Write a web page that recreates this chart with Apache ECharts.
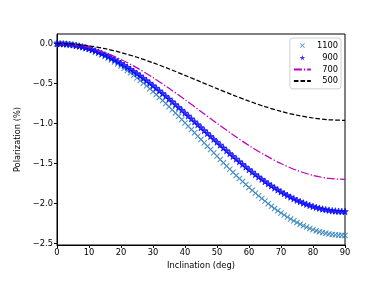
<!DOCTYPE html>
<html><head><meta charset="utf-8">
<script src="https://cdn.jsdelivr.net/npm/echarts@6/dist/echarts.min.js"></script>
<style>html,body{margin:0;padding:0;background:#fff}#c{width:384px;height:288px}</style>
</head><body><div id="c"></div>
<script>
// Inclination (deg), 1-degree samples for the marker series
const incl = [0,1,2,3,4,5,6,7,8,9,10,11,12,13,14,15,16,17,18,19,20,21,22,23,24,25,26,27,28,29,30,
31,32,33,34,35,36,37,38,39,40,41,42,43,44,45,46,47,48,49,50,51,52,53,54,55,56,57,58,59,60,
61,62,63,64,65,66,67,68,69,70,71,72,73,74,75,76,77,78,79,80,81,82,83,84,85,86,87,88,89,90];
const p1100 = [0,-0.001,-0.003,-0.007,-0.012,-0.018,-0.026,-0.036,-0.046,-0.059,-0.072,-0.087,-0.104,-0.121,-0.140,-0.161,
-0.182,-0.205,-0.229,-0.254,-0.281,-0.308,-0.337,-0.366,-0.397,-0.429,-0.461,-0.495,-0.529,-0.564,-0.600,
-0.637,-0.674,-0.712,-0.750,-0.790,-0.829,-0.869,-0.910,-0.950,-0.992,-1.033,-1.075,-1.116,-1.158,-1.200,
-1.242,-1.284,-1.325,-1.367,-1.408,-1.450,-1.490,-1.531,-1.571,-1.610,-1.650,-1.688,-1.726,-1.763,-1.800,
-1.836,-1.871,-1.905,-1.939,-1.971,-2.003,-2.034,-2.063,-2.092,-2.119,-2.146,-2.171,-2.195,-2.218,-2.239,
-2.260,-2.279,-2.296,-2.313,-2.328,-2.341,-2.354,-2.364,-2.374,-2.382,-2.388,-2.393,-2.397,-2.399,-2.400];
const p900 = [0,-0.001,-0.003,-0.006,-0.010,-0.016,-0.023,-0.031,-0.041,-0.051,-0.063,-0.076,-0.091,-0.106,-0.123,-0.141,
-0.160,-0.180,-0.201,-0.223,-0.246,-0.270,-0.295,-0.321,-0.347,-0.375,-0.404,-0.433,-0.463,-0.494,-0.525,
-0.557,-0.590,-0.623,-0.657,-0.691,-0.726,-0.761,-0.796,-0.832,-0.868,-0.904,-0.940,-0.977,-1.013,-1.050,
-1.087,-1.123,-1.160,-1.196,-1.232,-1.268,-1.304,-1.339,-1.374,-1.409,-1.443,-1.477,-1.510,-1.543,-1.575,
-1.606,-1.637,-1.667,-1.696,-1.725,-1.753,-1.779,-1.805,-1.830,-1.854,-1.877,-1.899,-1.920,-1.940,-1.959,
-1.977,-1.994,-2.009,-2.024,-2.037,-2.049,-2.059,-2.069,-2.077,-2.084,-2.090,-2.094,-2.097,-2.099,-2.100];
// 5-degree samples for the line series
const inclCoarse = [0,5,10,15,20,25,30,35,40,45,50,55,60,65,70,75,80,85,90];
const p700 = [0,-0.013,-0.051,-0.114,-0.199,-0.304,-0.425,-0.559,-0.702,-0.850,-0.998,-1.141,-1.275,-1.396,-1.501,-1.586,-1.649,-1.687,-1.700];
const p500 = [0,-0.007,-0.029,-0.064,-0.112,-0.171,-0.240,-0.316,-0.397,-0.480,-0.563,-0.644,-0.720,-0.789,-0.848,-0.896,-0.931,-0.953,-0.960];
const xTicks = [0,10,20,30,40,50,60,70,80,90];
const yTicks = [-2.5,-2.0,-1.5,-1.0,-0.5,0.0];
const names = ['1100','900','700','500'];

const zip = (xs, ys) => xs.map((x, i) => [x, ys[i]]);
const X_BODY = 'M0,0.12 L0.12,0 L0.5,0.38 L0.88,0 L1,0.12 L0.62,0.5 L1,0.88 L0.88,1 L0.5,0.62 L0.12,1 L0,0.88 L0.38,0.5 Z';
const STAR_BODY = 'M0.5,0 L0.618,0.363 L1,0.363 L0.691,0.588 L0.809,0.951 L0.5,0.727 L0.191,0.951 L0.309,0.588 L0,0.363 L0.382,0.363 Z';
const X_PATH = 'path://' + X_BODY;
const STAR_PATH = 'path://' + STAR_BODY;
// legend icons: same glyphs with an invisible margin so they draw smaller
const X_ICON = 'path://M-0.4,-0.4 M1.4,1.4 ' + X_BODY;
const STAR_ICON = 'path://M-0.3,-0.3 M1.3,1.3 ' + STAR_BODY;
const font = 'DejaVu Sans';
const fmt = v => (Math.abs(v) < 1e-9 ? '0.0' : v.toFixed(1).replace('-', '\u2212'));
const clear = {color: 'rgba(0,0,0,0)', borderColor: 'rgba(0,0,0,0)', borderWidth: 0, opacity: 0};

const chart = echarts.init(document.getElementById('c'), null, {renderer: 'canvas'});
chart.setOption({
  animation: false,
  backgroundColor: '#fff',
  textStyle: {fontFamily: font},
  grid: {left: 57, right: 39, top: 34, bottom: 43, show: true, borderColor: '#000', borderWidth: 1, containLabel: false},
  legend: {
    right: 43, top: 38, orient: 'vertical', itemGap: 3.3, itemWidth: 17, itemHeight: 9,
    backgroundColor: 'rgba(255,255,255,0.8)', borderColor: '#d0d0d0', borderWidth: 1, borderRadius: 3,
    padding: [3, 3, 4, 3],
    formatter: n => n.padStart(4, '\u2007'),
    textStyle: {fontFamily: font, fontSize: 8.3, color: '#000', padding: [0, 0, 0, 1]},
    data: [
      {name: '1100', icon: X_ICON, itemStyle: {color: '#1f77b4', borderWidth: 0}},
      {name: '900', icon: STAR_ICON, itemStyle: {color: '#0000ff', borderWidth: 0, borderColor: 'rgba(0,0,0,0)'}},
      {name: '700', itemStyle: clear},
      {name: '500', itemStyle: clear}
    ]
  },
  xAxis: {
    type: 'value', min: 0, max: 90, interval: 10,
    name: 'Inclination (deg)', nameLocation: 'middle', nameGap: 16,
    nameTextStyle: {fontFamily: font, fontSize: 8.3, color: '#000'},
    axisLine: {show: true, onZero: false, lineStyle: {color: '#000', width: 1}},
    axisTick: {show: true, length: 3, lineStyle: {color: '#000'}},
    axisLabel: {fontFamily: font, fontSize: 8.3, color: '#000', margin: 4, customValues: xTicks},
    splitLine: {show: false}
  },
  yAxis: {
    type: 'value', min: -2.52, max: 0.12,
    name: 'Polarization (%)', nameLocation: 'middle', nameGap: 26,
    nameTextStyle: {fontFamily: font, fontSize: 8.3, color: '#000'},
    axisLine: {show: true, onZero: false, lineStyle: {color: '#000', width: 1}},
    axisTick: {show: true, length: 3, lineStyle: {color: '#000'}, customValues: yTicks},
    axisLabel: {fontFamily: font, fontSize: 8.3, color: '#000', margin: 4, customValues: yTicks, formatter: fmt},
    splitLine: {show: false}
  },
  series: [
    {name: names[0], type: 'scatter', data: zip(incl, p1100), symbol: X_PATH, symbolSize: 6,
     itemStyle: {color: '#1f77b4'}, z: 2},
    {name: names[1], type: 'scatter', data: zip(incl, p900), symbol: STAR_PATH, symbolSize: 6.5,
     itemStyle: {color: '#0000ff', borderColor: '#0000ff', borderWidth: 0.8}, z: 3},
    {name: names[2], type: 'line', data: zip(inclCoarse, p700), smooth: 0.3, showSymbol: false, symbol: 'none',
     lineStyle: {color: '#bf00bf', width: 1.25, type: [8, 2, 1.3, 2]}, itemStyle: {color: '#bf00bf'}, z: 4},
    {name: names[3], type: 'line', data: zip(inclCoarse, p500), smooth: 0.3, showSymbol: false, symbol: 'none',
     lineStyle: {color: '#000', width: 1.25, type: [4.6, 2]}, itemStyle: {color: '#000'}, z: 5}
  ]
});
</script></body></html>
